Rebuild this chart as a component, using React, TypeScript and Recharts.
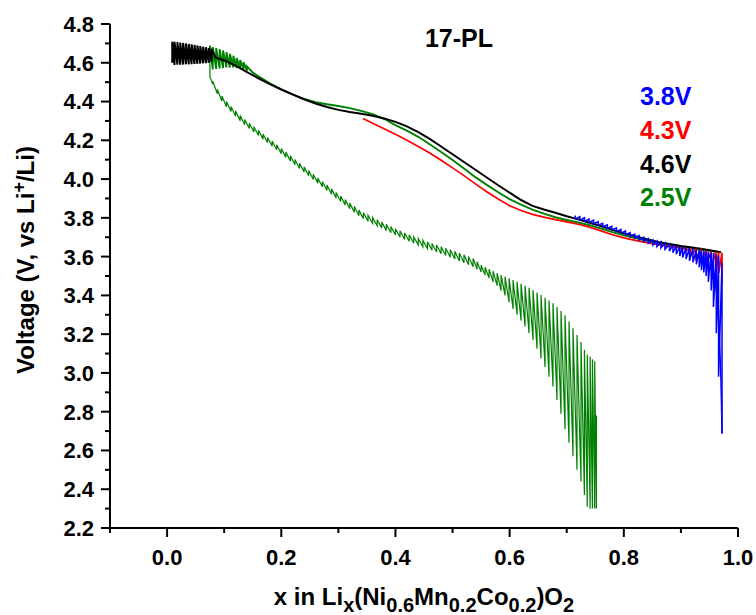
import { Label, Legend, Line, LineChart, XAxis, YAxis } from 'recharts'

// Each row is [x, v] or [x, v1, v2]; a row with two voltages is one GITT
// step (pulse end and relaxed value at the same x), drawn in the listed order.
type Row = number[]

const X_MAJOR = [0, 0.2, 0.4, 0.6, 0.8, 1.0]
const X_MINOR = [-0.1, 0.1, 0.3, 0.5, 0.7, 0.9]
const Y_MAJOR = [2.2, 2.4, 2.6, 2.8, 3.0, 3.2, 3.4, 3.6, 3.8, 4.0, 4.2, 4.4, 4.6, 4.8]
const Y_MINOR = [2.3, 2.5, 2.7, 2.9, 3.1, 3.3, 3.5, 3.7, 3.9, 4.1, 4.3, 4.5, 4.7]

const LEGEND_NAMES = ['3.8V', '4.3V', '4.6V', '2.5V']
const LEGEND_COLORS = ['#0000ff', '#ff0000', '#000000', '#008000']

// 2.5V cut-off, charge (x falling)
const GREEN_25V_CHARGE: Row[] = [
  [0.97, 3.622], [0.95, 3.63], [0.92, 3.642], [0.9, 3.65], [0.88, 3.66],
  [0.86, 3.67], [0.84, 3.682], [0.82, 3.695], [0.8, 3.71], [0.78, 3.726],
  [0.76, 3.745], [0.74, 3.762], [0.72, 3.776], [0.7, 3.789], [0.68, 3.803],
  [0.66, 3.822], [0.64, 3.842], [0.62, 3.868], [0.6, 3.897], [0.58, 3.932],
  [0.56, 3.97], [0.54, 4.01], [0.52, 4.055], [0.5, 4.098], [0.48, 4.14],
  [0.46, 4.18], [0.44, 4.218], [0.42, 4.25], [0.4, 4.278], [0.38, 4.311],
  [0.36, 4.335], [0.34, 4.352], [0.32, 4.366], [0.3, 4.377], [0.28, 4.386],
  [0.26, 4.397], [0.24, 4.413], [0.22, 4.436], [0.2, 4.463], [0.18, 4.494],
  [0.16, 4.53], [0.15, 4.55],
  [0.14, 4.58, 4.56], [0.134, 4.603, 4.566], [0.128, 4.614, 4.57],
  [0.122, 4.625, 4.573], [0.116, 4.636, 4.575], [0.11, 4.646, 4.576],
  [0.104, 4.655, 4.575], [0.098, 4.663, 4.573], [0.092, 4.67, 4.571],
  [0.086, 4.676, 4.568], [0.08, 4.681, 4.566], [0.075, 4.688],
]

// 2.5V cut-off, discharge (x rising): [x, pulse end, relaxed]
const GREEN_25V_DISCHARGE: Row[] = [
  [0.075, 4.688, 4.528],
  [0.08, 4.49, 4.505], [0.088, 4.44, 4.462], [0.096, 4.402, 4.428],
  [0.104, 4.373, 4.4], [0.112, 4.348, 4.375], [0.12, 4.324, 4.351],
  [0.128, 4.301, 4.328], [0.136, 4.28, 4.307], [0.144, 4.261, 4.288],
  [0.152, 4.243, 4.27], [0.16, 4.225, 4.252], [0.168, 4.206, 4.233],
  [0.176, 4.188, 4.215], [0.184, 4.169, 4.196], [0.192, 4.15, 4.177],
  [0.2, 4.131, 4.158], [0.208, 4.112, 4.139], [0.216, 4.093, 4.12],
  [0.224, 4.074, 4.101], [0.232, 4.055, 4.082], [0.24, 4.036, 4.063],
  [0.248, 4.017, 4.044], [0.256, 3.998, 4.025], [0.264, 3.979, 4.006],
  [0.272, 3.96, 3.988], [0.28, 3.941, 3.969], [0.288, 3.922, 3.95],
  [0.296, 3.903, 3.931], [0.304, 3.884, 3.912], [0.312, 3.866, 3.894],
  [0.32, 3.847, 3.876], [0.328, 3.829, 3.858], [0.336, 3.811, 3.84],
  [0.344, 3.796, 3.826], [0.352, 3.783, 3.813], [0.36, 3.771, 3.801],
  [0.368, 3.759, 3.79], [0.376, 3.747, 3.778], [0.384, 3.735, 3.767],
  [0.392, 3.723, 3.755], [0.4, 3.712, 3.744], [0.408, 3.7, 3.733],
  [0.416, 3.689, 3.722], [0.424, 3.679, 3.712], [0.432, 3.669, 3.702],
  [0.44, 3.66, 3.693], [0.448, 3.651, 3.684], [0.456, 3.642, 3.676],
  [0.464, 3.633, 3.668], [0.472, 3.624, 3.66], [0.48, 3.615, 3.651],
  [0.488, 3.606, 3.643], [0.496, 3.597, 3.635], [0.504, 3.588, 3.627],
  [0.512, 3.578, 3.618], [0.52, 3.568, 3.609], [0.528, 3.558, 3.6],
  [0.536, 3.548, 3.59], [0.543, 3.535, 3.574],
  [0.55, 3.52, 3.555], [0.557, 3.505, 3.545], [0.564, 3.49, 3.535],
  [0.571, 3.47, 3.525], [0.578, 3.45, 3.515], [0.585, 3.425, 3.505],
  [0.592, 3.4, 3.497], [0.599, 3.365, 3.488], [0.606, 3.33, 3.479],
  [0.613, 3.3, 3.47], [0.62, 3.27, 3.46], [0.627, 3.24, 3.45],
  [0.634, 3.205, 3.439], [0.641, 3.17, 3.427], [0.648, 3.125, 3.415],
  [0.655, 3.075, 3.402], [0.662, 3.03, 3.388], [0.669, 2.98, 3.374],
  [0.676, 2.93, 3.359], [0.683, 2.86, 3.34], [0.69, 2.79, 3.32],
  [0.697, 2.71, 3.297], [0.704, 2.64, 3.265], [0.711, 2.57, 3.23],
  [0.718, 2.5, 3.195], [0.725, 2.44, 3.16], [0.731, 2.37, 3.12],
  [0.736, 2.31, 3.095], [0.741, 2.3, 3.085], [0.745, 2.3, 3.07],
  [0.749, 2.3, 3.06], [0.752, 2.3, 2.78],
]

// 4.6V cut-off charge, x falling
const BLACK_46V: Row[] = [
  [0.97, 3.622], [0.96, 3.628], [0.94, 3.638], [0.92, 3.647], [0.9, 3.655],
  [0.88, 3.665], [0.86, 3.676], [0.84, 3.69], [0.82, 3.705], [0.8, 3.72],
  [0.78, 3.738], [0.76, 3.758], [0.74, 3.775], [0.72, 3.792], [0.7, 3.808],
  [0.68, 3.826], [0.66, 3.843], [0.64, 3.862], [0.62, 3.892], [0.6, 3.93],
  [0.58, 3.968], [0.56, 4.008], [0.54, 4.048], [0.52, 4.088], [0.5, 4.128],
  [0.48, 4.168], [0.46, 4.207], [0.44, 4.242], [0.42, 4.272], [0.4, 4.295],
  [0.38, 4.313], [0.36, 4.327], [0.34, 4.337], [0.32, 4.346], [0.3, 4.357],
  [0.28, 4.372], [0.26, 4.39], [0.24, 4.412], [0.22, 4.437], [0.2, 4.462],
  [0.18, 4.49], [0.16, 4.52], [0.14, 4.552], [0.12, 4.585], [0.1, 4.612],
  [0.085, 4.628],
  [0.078, 4.672, 4.605], [0.073, 4.676, 4.6], [0.068, 4.68, 4.598],
  [0.063, 4.683, 4.597], [0.058, 4.686, 4.596], [0.053, 4.689, 4.595],
  [0.048, 4.692, 4.594], [0.043, 4.695, 4.593], [0.038, 4.697, 4.592],
  [0.033, 4.7, 4.592], [0.028, 4.702, 4.591], [0.023, 4.704, 4.59],
  [0.018, 4.706, 4.59], [0.013, 4.708, 4.589], [0.009, 4.709, 4.6],
]

// 4.3V cut-off charge
const RED_43V: Row[] = [
  [0.343, 4.313], [0.36, 4.288], [0.38, 4.26], [0.4, 4.231], [0.42, 4.2],
  [0.44, 4.168], [0.46, 4.134], [0.48, 4.097], [0.5, 4.058], [0.52, 4.018],
  [0.54, 3.975], [0.56, 3.935], [0.58, 3.897], [0.6, 3.862], [0.62, 3.838],
  [0.64, 3.818], [0.66, 3.804], [0.68, 3.791], [0.7, 3.779], [0.72, 3.767],
  [0.74, 3.752], [0.76, 3.733], [0.78, 3.713], [0.8, 3.697], [0.82, 3.684],
  [0.84, 3.672], [0.86, 3.662], [0.88, 3.653],
  [0.9, 3.645, 3.64], [0.908, 3.642, 3.63], [0.917, 3.639, 3.605],
  [0.926, 3.636, 3.59], [0.935, 3.633, 3.574], [0.944, 3.63, 3.556],
  [0.953, 3.627, 3.539], [0.961, 3.624, 3.522], [0.966, 3.622, 3.514],
  [0.972, 3.62, 3.453],
]

// 3.8V cut-off charge
const BLUE_38V: Row[] = [
  [0.715, 3.812, 3.795], [0.723, 3.806, 3.788], [0.731, 3.8, 3.782],
  [0.739, 3.794, 3.776], [0.747, 3.788, 3.77], [0.755, 3.78, 3.762],
  [0.763, 3.772, 3.754], [0.771, 3.764, 3.746], [0.779, 3.756, 3.738],
  [0.787, 3.748, 3.729], [0.795, 3.74, 3.721], [0.803, 3.732, 3.713],
  [0.811, 3.724, 3.704], [0.819, 3.716, 3.696], [0.827, 3.708, 3.686],
  [0.835, 3.7, 3.677], [0.843, 3.693, 3.668], [0.851, 3.686, 3.659],
  [0.858, 3.68, 3.652], [0.865, 3.675, 3.645], [0.872, 3.67, 3.638],
  [0.88, 3.664, 3.628], [0.886, 3.66, 3.62], [0.892, 3.656, 3.612],
  [0.898, 3.652, 3.603], [0.903, 3.649, 3.595], [0.909, 3.646, 3.588],
  [0.915, 3.643, 3.578], [0.921, 3.64, 3.57], [0.927, 3.637, 3.56],
  [0.932, 3.634, 3.545], [0.936, 3.631, 3.53], [0.94, 3.629, 3.518],
  [0.944, 3.627, 3.5], [0.948, 3.625, 3.47], [0.953, 3.622, 3.425],
  [0.957, 3.619, 3.34], [0.962, 3.612, 3.205], [0.966, 3.6, 2.98],
  [0.972, 3.57, 2.688],
]

const BLUE_38V_FIRST_PULSE: Row[] = [
  [0.972, 2.688], [0.971, 2.85], [0.97, 2.98], [0.969, 3.06], [0.967, 3.2],
  [0.965, 3.32], [0.962, 3.43], [0.959, 3.5], [0.955, 3.56], [0.951, 3.6],
  [0.947, 3.617],
]

const FONT = 'Arial, "Liberation Sans", sans-serif'

const toPoints = (rows: Row[]) =>
  rows.flatMap(([x, ...vs]) => vs.map((v) => ({ x, v })))

function XTick(props: any) {
  const { x, y, payload } = props
  const major = X_MAJOR.includes(payload.value)
  return (
    <g>
      <line x1={x} y1={y} x2={x} y2={y + (major ? 9 : 5)} stroke="#000" strokeWidth={2} />
      {major && (
        <text x={x} y={y + 37} textAnchor="middle" fontFamily={FONT} fontWeight="bold" fontSize={22} fill="#000">
          {payload.value.toFixed(1)}
        </text>
      )}
    </g>
  )
}

function YTick(props: any) {
  const { x, y, payload } = props
  const major = Y_MAJOR.includes(payload.value)
  return (
    <g>
      <line x1={x - (major ? 9 : 5)} y1={y} x2={x} y2={y} stroke="#000" strokeWidth={2} />
      {major && (
        <text x={x - 16} y={y} dy="0.36em" textAnchor="end" fontFamily={FONT} fontWeight="bold" fontSize={22} fill="#000">
          {payload.value.toFixed(1)}
        </text>
      )}
    </g>
  )
}

function XTitle(props: any) {
  const vb = props.viewBox
  const sub = { fontSize: 20, dy: 7 }
  return (
    <text x={vb.x + vb.width / 2} y={vb.y + 77} textAnchor="middle" fontFamily={FONT} fontWeight="bold" fontSize={24} fill="#000">
      <tspan>x in Li</tspan>
      <tspan {...sub}>x</tspan>
      <tspan dy={-7}>(Ni</tspan>
      <tspan {...sub}>0.6</tspan>
      <tspan dy={-7}>Mn</tspan>
      <tspan {...sub}>0.2</tspan>
      <tspan dy={-7}>Co</tspan>
      <tspan {...sub}>0.2</tspan>
      <tspan dy={-7}>)O</tspan>
      <tspan {...sub}>2</tspan>
    </text>
  )
}

function YTitle(props: any) {
  const vb = props.viewBox
  const x = vb.x + 34
  const y = vb.y + vb.height / 2 - 16
  return (
    <text x={x} y={y} transform={`rotate(-90, ${x}, ${y})`} textAnchor="middle" fontFamily={FONT} fontWeight="bold" fontSize={24} fill="#000">
      <tspan>Voltage (V, vs Li</tspan>
      <tspan fontSize={18} dy={-9}>+</tspan>
      <tspan dy={9}>/Li)</tspan>
    </text>
  )
}

function LegendBox() {
  return (
    <div style={{ fontFamily: FONT, fontWeight: 'bold', fontSize: 25, lineHeight: '33.8px' }}>
      {LEGEND_NAMES.map((name, i) => (
        <div key={name} style={{ color: LEGEND_COLORS[i] }}>{name}</div>
      ))}
    </div>
  )
}

export default function App() {
  return (
    <div style={{ position: 'absolute', left: 0, top: 0, width: 756, height: 615, background: '#fff' }}>
      <LineChart width={756} height={615} margin={{ top: 24, right: 18, bottom: 0, left: 0 }}>
        <XAxis
          type="number"
          dataKey="x"
          domain={[-0.1, 1.0]}
          allowDataOverflow
          ticks={[...X_MINOR, ...X_MAJOR].sort((a, b) => a - b)}
          interval={0}
          tick={XTick}
          tickLine={false}
          tickSize={0}
          tickMargin={0}
          axisLine={{ stroke: '#000', strokeWidth: 2 }}
          height={87}
        >
          <Label content={XTitle} />
        </XAxis>
        <YAxis
          type="number"
          dataKey="v"
          domain={[2.2, 4.8]}
          allowDataOverflow
          ticks={[...Y_MINOR, ...Y_MAJOR].sort((a, b) => a - b)}
          interval={0}
          tick={YTick}
          tickLine={false}
          tickSize={0}
          tickMargin={0}
          axisLine={{ stroke: '#000', strokeWidth: 2 }}
          width={110}
        >
          <Label content={YTitle} />
        </YAxis>
        <Legend
          content={LegendBox}
          layout="horizontal"
          verticalAlign="middle"
          align="center"
          wrapperStyle={{ left: 640, top: 80, width: 'auto' }}
        />
        <Line data={toPoints(GREEN_25V_DISCHARGE)} dataKey="v" name="2.5V discharge" type="linear" stroke="#008000" strokeWidth={1.2} dot={false} isAnimationActive={false} />
        <Line data={toPoints(GREEN_25V_CHARGE)} dataKey="v" name="2.5V" type="linear" stroke="#008000" strokeWidth={1.9} dot={false} isAnimationActive={false} />
        <Line data={toPoints(BLACK_46V)} dataKey="v" name="4.6V" type="linear" stroke="#000000" strokeWidth={2} dot={false} isAnimationActive={false} />
        <Line data={toPoints(RED_43V)} dataKey="v" name="4.3V" type="linear" stroke="#ff0000" strokeWidth={1.7} dot={false} isAnimationActive={false} />
        <Line data={toPoints(BLUE_38V)} dataKey="v" name="3.8V" type="linear" stroke="#0000ff" strokeWidth={1.5} dot={false} isAnimationActive={false} />
        <Line data={toPoints(BLUE_38V_FIRST_PULSE)} dataKey="v" name="3.8V first pulse" type="linear" stroke="#0000ff" strokeWidth={1.5} dot={false} isAnimationActive={false} />
      </LineChart>
      <div
        style={{
          position: 'absolute',
          left: 459,
          top: 26,
          transform: 'translateX(-50%)',
          fontFamily: FONT,
          fontWeight: 'bold',
          fontSize: 25,
          lineHeight: '25px',
          whiteSpace: 'nowrap',
        }}
      >
        17-PL
      </div>
    </div>
  )
}
